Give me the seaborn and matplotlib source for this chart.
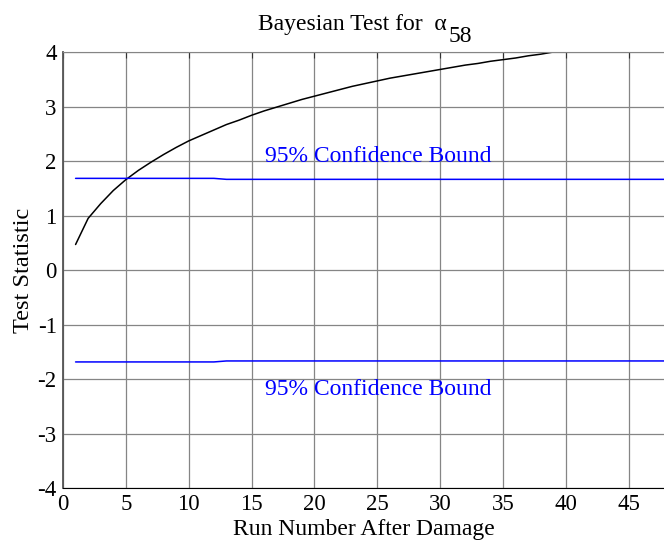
import pandas as pd
import matplotlib
matplotlib.use("Agg")
import matplotlib.pyplot as plt
import seaborn as sns

# test statistic per run after damage
runs = list(range(1, 40))
stat = [0.47, 0.95, 1.22, 1.46, 1.66, 1.83, 1.98, 2.12, 2.25, 2.37,
        2.47, 2.57, 2.67, 2.75, 2.84, 2.92, 2.99, 3.06, 3.13, 3.19,
        3.25, 3.31, 3.37, 3.42, 3.47, 3.52, 3.56, 3.60, 3.64, 3.68,
        3.72, 3.76, 3.79, 3.83, 3.86, 3.89, 3.93, 3.96, 4.00]

# 95% confidence bound
bound_x = [1, 12, 13, 48]
bound_y = [1.683, 1.683, 1.665, 1.665]
bound_label = "95% Confidence Bound"

df = pd.DataFrame({"Run": runs, "Stat": stat})
bd = pd.DataFrame({"Run": bound_x, "Upper": bound_y,
                   "Lower": [-v for v in bound_y]})

sns.set_style("white")
plt.rcParams['font.family'] = ['Liberation Serif', 'DejaVu Serif']
plt.rcParams['axes.unicode_minus'] = False
plt.rcParams['text.color'] = 'black'
plt.rcParams['axes.labelcolor'] = 'black'
plt.rcParams['xtick.color'] = 'black'
plt.rcParams['ytick.color'] = 'black'

W, H = 664, 546
fig = plt.figure(figsize=(W / 100, H / 100), dpi=100)
ax = fig.add_axes([63 / W, 1 - 488.3 / H, 1 - 63 / W, (488.3 - 52) / H])

sns.lineplot(data=df, x="Run", y="Stat", color="black", lw=1.1, ax=ax)
sns.lineplot(data=bd, x="Run", y="Upper", color="#0000ff", lw=1.1, ax=ax)
sns.lineplot(data=bd, x="Run", y="Lower", color="#0000ff", lw=1.1, ax=ax)

ax.text(16.05, 1.99, bound_label, color="#0000ff", fontsize=17, va="baseline")
ax.text(16.05, -2.29, bound_label, color="#0000ff", fontsize=17, va="baseline")

ax.set_xlim(0, 47.8)
ax.set_ylim(-4, 4)
ax.set_xticks(range(0, 50, 5))
ax.set_yticks(range(-4, 5))
ax.grid(True, color="#858585", lw=0.9)
ax.tick_params(direction="in", length=4, labelsize=16.5, top=True,
               color="#333333")
ax.tick_params(axis="x", pad=4)
ax.tick_params(axis="y", pad=4.5)
ax.spines["right"].set_visible(False)
ax.spines["top"].set_color("#858585")
ax.spines["left"].set_color("#555555")
ax.spines["left"].set_linewidth(1.3)
ax.spines["bottom"].set_color("black")

ax.set_xlabel("Run Number After Damage", fontsize=17)
ax.xaxis.set_label_coords(0.5, -(535 - 488.3) / 436.3)
ax.xaxis.label.set_va("baseline")
ax.set_ylabel("Test Statistic", fontsize=17.5)
ax.yaxis.set_label_coords(-(63 - 24) / 601, 0.5)
ax.yaxis.label.set_va("center")

# title: upright alpha with a full-size subscript, as in the original
fig.text(258 / W, 1 - 29.6 / H, "Bayesian Test for  \u03b1",
         ha="left", va="baseline", fontsize=17)
fig.text(472 / W, 1 - 42 / H, "58", ha="right", va="baseline", fontsize=17)

fig.savefig("out.png", dpi=100)
